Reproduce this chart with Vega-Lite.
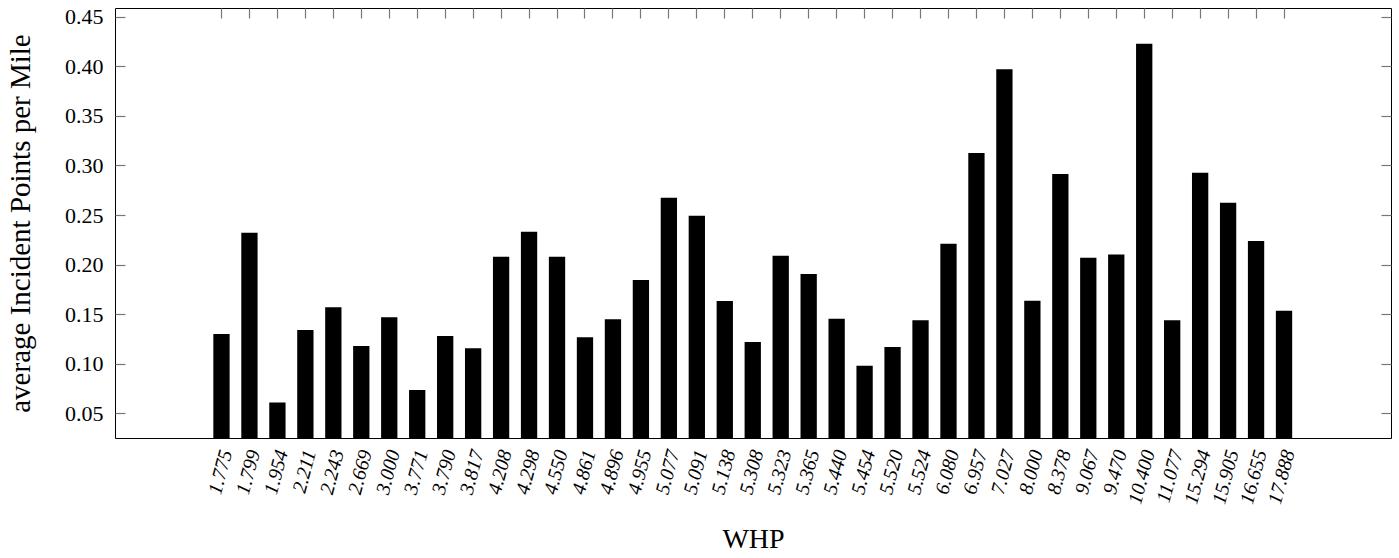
{
  "$schema": "https://vega.github.io/schema/vega-lite/v6.json",
  "width": 1276,
  "height": 430,
  "autosize": {"type": "none"},
  "padding": {"left": 115, "top": 8, "right": 8, "bottom": 120},
  "config": {
    "view": {"stroke": "#000", "strokeWidth": 1},
    "font": "Liberation Serif",
    "axis": {
      "labelFont": "Liberation Serif",
      "titleFont": "Liberation Serif",
      "labelColor": "#000",
      "titleColor": "#000",
      "titleFontWeight": "normal",
      "domainColor": "#000",
      "grid": false
    }
  },
  "data": {
    "values": [
      {"WHP": "1.775", "value": 0.130},
      {"WHP": "1.799", "value": 0.232},
      {"WHP": "1.954", "value": 0.061},
      {"WHP": "2.211", "value": 0.134},
      {"WHP": "2.243", "value": 0.157},
      {"WHP": "2.669", "value": 0.118},
      {"WHP": "3.000", "value": 0.147},
      {"WHP": "3.771", "value": 0.0735},
      {"WHP": "3.790", "value": 0.128},
      {"WHP": "3.817", "value": 0.1155},
      {"WHP": "4.208", "value": 0.208},
      {"WHP": "4.298", "value": 0.233},
      {"WHP": "4.550", "value": 0.208},
      {"WHP": "4.861", "value": 0.1266},
      {"WHP": "4.896", "value": 0.1448},
      {"WHP": "4.955", "value": 0.1844},
      {"WHP": "5.077", "value": 0.2675},
      {"WHP": "5.091", "value": 0.2493},
      {"WHP": "5.138", "value": 0.1633},
      {"WHP": "5.308", "value": 0.1219},
      {"WHP": "5.323", "value": 0.209},
      {"WHP": "5.365", "value": 0.1905},
      {"WHP": "5.440", "value": 0.1454},
      {"WHP": "5.454", "value": 0.098},
      {"WHP": "5.520", "value": 0.1169},
      {"WHP": "5.524", "value": 0.1438},
      {"WHP": "6.080", "value": 0.2211},
      {"WHP": "6.957", "value": 0.3125},
      {"WHP": "7.027", "value": 0.3969},
      {"WHP": "8.000", "value": 0.1636},
      {"WHP": "8.378", "value": 0.2913},
      {"WHP": "9.067", "value": 0.2069},
      {"WHP": "9.470", "value": 0.2103},
      {"WHP": "10.400", "value": 0.4228},
      {"WHP": "11.077", "value": 0.1438},
      {"WHP": "15.294", "value": 0.2927},
      {"WHP": "15.905", "value": 0.2624},
      {"WHP": "16.655", "value": 0.2238},
      {"WHP": "17.888", "value": 0.1535}
    ]
  },
  "layer": [
    {
      "mark": {"type": "bar", "color": "#000", "clip": true},
      "encoding": {
        "x": {
          "field": "WHP",
          "type": "nominal",
          "sort": null,
          "scale": {"range": [92.5, 1183], "paddingInner": 0.417, "paddingOuter": 0.2085},
          "axis": {
            "orient": "bottom",
            "title": "WHP",
            "domain": false,
            "ticks": false,
            "labelAngle": -75,
            "labelAlign": "right",
            "labelBaseline": "middle",
            "labelFontStyle": "italic",
            "labelFontSize": 20,
            "labelPadding": 12,
            "labelOffset": 5,
            "labelOverlap": false,
            "titleFontSize": 28,
            "titleX": 638,
            "titleY": 109,
            "titleBaseline": "alphabetic",
            "titleAlign": "center"
          }
        },
        "y": {
          "field": "value",
          "type": "quantitative",
          "scale": {"domain": [0.0251, 0.4588], "zero": false, "nice": false},
          "axis": {
            "orient": "left",
            "title": "average Incident Points per Mile",
            "values": [0.05, 0.10, 0.15, 0.20, 0.25, 0.30, 0.35, 0.40, 0.45],
            "format": ".2f",
            "domain": false,
            "offset": -10,
            "ticks": true,
            "tickSize": 10,
            "tickColor": "#777",
            "tickWidth": 1.2,
            "labelPadding": 12,
            "labelFontSize": 22,
            "titleFontSize": 29,
            "titleX": -96,
            "titleY": 215,
            "titleAngle": -90,
            "titleBaseline": "alphabetic",
            "titleAlign": "center"
          }
        }
      }
    },
    {
      "mark": {"type": "bar", "opacity": 0},
      "encoding": {
        "x": {
          "field": "WHP",
          "type": "nominal",
          "sort": null,
          "axis": {"orient": "top", "title": null, "labels": false, "domain": false, "offset": -10, "ticks": true, "tickSize": 10, "tickColor": "#777", "tickWidth": 1.2}
        },
        "y": {
          "field": "value",
          "type": "quantitative",
          "axis": {
            "orient": "right",
            "title": null,
            "labels": false,
            "domain": false,
            "offset": -10,
            "ticks": true,
            "tickSize": 10,
            "tickColor": "#777",
            "tickWidth": 1.2,
            "values": [0.05, 0.10, 0.15, 0.20, 0.25, 0.30, 0.35, 0.40, 0.45]
          }
        }
      }
    }
  ],
  "resolve": {"axis": {"x": "independent", "y": "independent"}}
}
